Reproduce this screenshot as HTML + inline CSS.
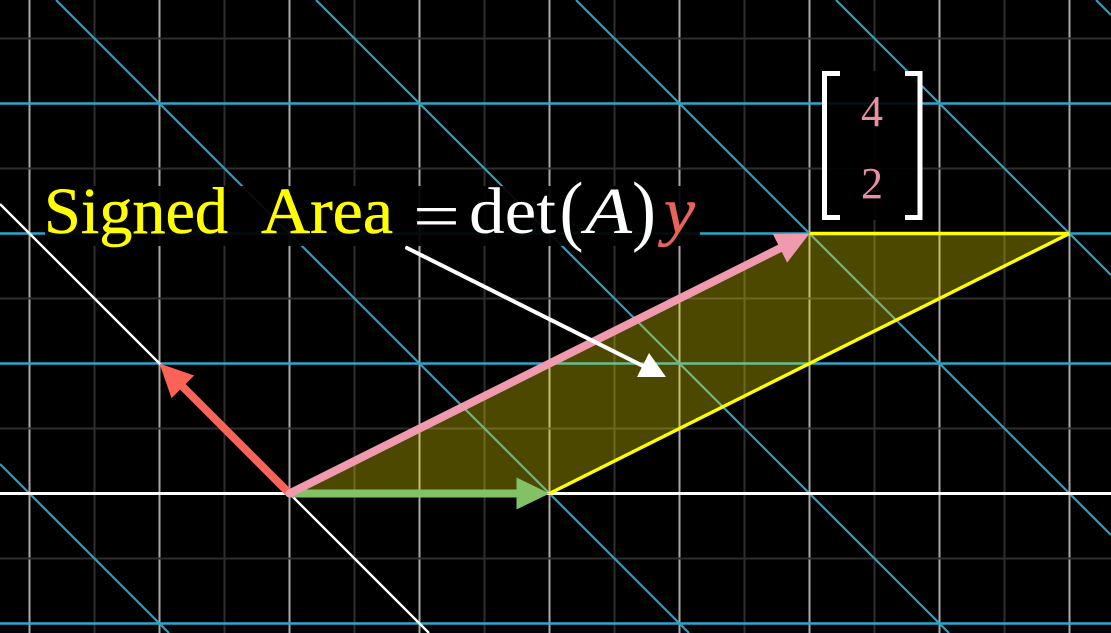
<!DOCTYPE html>
<html>
<head>
<meta charset="utf-8">
<style>
html,body{margin:0;padding:0;background:#000;width:1111px;height:633px;overflow:hidden}
svg{display:block}
text{font-family:"Liberation Serif",serif}
</style>
</head>
<body>
<svg id="chart" width="1111" height="633" viewBox="0 0 1111 633" xmlns="http://www.w3.org/2000/svg">
  <rect x="0" y="0" width="1111" height="633" fill="#000"/>
  <g id="grid-layer"></g>
  <g id="transformed-layer"></g>
  <g id="area-layer"></g>
  <rect x="45" y="186" width="655" height="60" fill="#000" opacity="0.92"/>
  <rect x="822" y="71" width="100" height="149" fill="#000" opacity="0.9"/>
  <g id="vector-layer"></g>
  <g font-size="66" stroke-width="0.5">
    <text x="44" y="233" fill="#ffff00" stroke="#ffff00" textLength="184" lengthAdjust="spacingAndGlyphs">Signed</text>
    <text x="261" y="233" fill="#ffff00" stroke="#ffff00" textLength="132" lengthAdjust="spacingAndGlyphs">Area</text>
    <text x="413" y="238" fill="#ffffff" textLength="47" lengthAdjust="spacingAndGlyphs">=</text>
    <text x="469" y="233" fill="#ffffff" textLength="87" lengthAdjust="spacingAndGlyphs">det</text>
    <text x="559.5" y="236" font-size="78" fill="#ffffff" textLength="24" lengthAdjust="spacingAndGlyphs">(</text>
    <text x="585" y="233" fill="#ffffff" font-style="italic" textLength="47" lengthAdjust="spacingAndGlyphs">A</text>
    <text x="632" y="236" font-size="78" fill="#ffffff" textLength="24" lengthAdjust="spacingAndGlyphs">)</text>
    <text x="664" y="233" fill="#e8635a" stroke="#e8635a" font-style="italic" textLength="31" lengthAdjust="spacingAndGlyphs">y</text>
  </g>
  <g id="matrix-layer">
    <path d="M840 73.5H824.5V217.5H840" fill="none" stroke="#fff" stroke-width="5"/>
    <path d="M905 73.5H920V217.5H905" fill="none" stroke="#fff" stroke-width="5"/>
  </g>
  <g id="callout">
    <line x1="407" y1="248" x2="645" y2="367" stroke="#fff" stroke-width="4" stroke-linecap="round"/>
    <polygon points="637,377 666,377 649,353" fill="#fff"/>
  </g>
</svg>
<script>
// Grid ranges, in plane units (the origin sits at the centre of the white axis crossing)
const gridXValues = [-2, -1.5, -1, -0.5, 0, 0.5, 1, 1.5, 2, 2.5, 3, 3.5, 4, 4.5, 5, 5.5, 6];
const gridYValues = [3.5, 3, 2.5, 2, 1.5, 1, 0.5, 0, -0.5, -1];
const transformedRows = [3, 2, 1, -1];
const transformedColumns = [-1, 1, 2, 3, 4, 5];
// Vectors and the transformed region
const iHatVector = [2, 0];
const jHatVector = [-1, 1];
const resultVector = [4, 2];
const areaCorners = [[0, 0], [2, 0], [6, 2], [4, 2]];
const matrixEntries = ["4", "2"];

function sx(u) { return 289.5 + 130 * u; }
function sy(v) { return 493.5 - 130 * v; }

const NS = 'http://www.w3.org/2000/svg';
const FRAME_W = 1111;
const FRAME_H = 633;

// Liang-Barsky clip so that no line extends beyond the frame
function clipToFrame(x1, y1, x2, y2) {
  let t0 = 0;
  let t1 = 1;
  const dx = x2 - x1;
  const dy = y2 - y1;
  const p = [-dx, dx, -dy, dy];
  const q = [x1, FRAME_W - x1, y1, FRAME_H - y1];
  for (let i = 0; i < 4; i++) {
    if (p[i] === 0) {
      if (q[i] < 0) return null;
    } else {
      const r = q[i] / p[i];
      if (p[i] < 0) t0 = Math.max(t0, r);
      else t1 = Math.min(t1, r);
    }
  }
  if (t0 > t1) return null;
  return [x1 + t0 * dx, y1 + t0 * dy, x1 + t1 * dx, y1 + t1 * dy];
}

function segment(parent, u1, v1, u2, v2, color, width) {
  const c = clipToFrame(sx(u1), sy(v1), sx(u2), sy(v2));
  const el = document.createElementNS(NS, 'line');
  const pts = c || [0, 0, 0, 0];
  el.setAttribute('x1', pts[0]);
  el.setAttribute('y1', pts[1]);
  el.setAttribute('x2', pts[2]);
  el.setAttribute('y2', pts[3]);
  el.setAttribute('stroke', color);
  el.setAttribute('stroke-width', width);
  parent.appendChild(el);
  return el;
}

const gridLayer = document.getElementById('grid-layer');
gridXValues.forEach(function (u) {
  const major = Number.isInteger(u);
  const el = segment(gridLayer, u, -2, u, 4, major ? '#a8a8a8' : '#2e2e2e', 2);
  
  
});
gridYValues.forEach(function (v) {
  const el = segment(gridLayer, -3, v, 7, v, '#2e2e2e', 2);
  
  
});

const transformedLayer = document.getElementById('transformed-layer');
transformedRows.forEach(function (v) {
  const el = segment(transformedLayer, -3, v, 7, v, '#29a9d0', 2.6);
  
  
});
// each column k runs along the transformed j-hat, through k times the transformed i-hat
transformedColumns.forEach(function (k) {
  const t = 8;
  const ou = k * iHatVector[0];
  const ov = k * iHatVector[1];
  const el = segment(transformedLayer, ou - t * jHatVector[0], ov - t * jHatVector[1], ou + t * jHatVector[0], ov + t * jHatVector[1], '#2c9fc2', 2.2);
  
  
});
const axisX = segment(transformedLayer, -3, 0, 7, 0, '#ffffff', 3);


const axisJ = segment(transformedLayer, jHatVector[0] * -6, jHatVector[1] * -6, jHatVector[0] * 6, jHatVector[1] * 6, '#ffffff', 2.4);



const areaLayer = document.getElementById('area-layer');
const areaFill = document.createElementNS(NS, 'polygon');
areaFill.setAttribute('points', areaCorners.map(function (c) { return sx(c[0]) + ',' + sy(c[1]); }).join(' '));
areaFill.setAttribute('fill', '#ffee00');
areaFill.setAttribute('fill-opacity', '0.3');


areaLayer.appendChild(areaFill);
const edgeLower = segment(areaLayer, areaCorners[1][0], areaCorners[1][1], areaCorners[2][0], areaCorners[2][1], '#ffff00', 3.4);


const edgeUpper = segment(areaLayer, areaCorners[2][0], areaCorners[2][1], areaCorners[3][0], areaCorners[3][1], '#ffff00', 3.4);



const vectorLayer = document.getElementById('vector-layer');
function arrow(vec, color, width) {
  const tx = sx(vec[0]);
  const ty = sy(vec[1]);
  const dx = tx - sx(0);
  const dy = ty - sy(0);
  const len = Math.hypot(dx, dy);
  const ux = dx / len;
  const uy = dy / len;
  const bx = tx - 33 * ux;
  const by = ty - 33 * uy;
  const g = document.createElementNS(NS, 'g');
  const shaft = document.createElementNS(NS, 'line');
  shaft.setAttribute('x1', sx(0));
  shaft.setAttribute('y1', sy(0));
  shaft.setAttribute('x2', bx);
  shaft.setAttribute('y2', by);
  shaft.setAttribute('stroke', color);
  shaft.setAttribute('stroke-width', width);
  shaft.setAttribute('stroke-linecap', 'round');
  
  
  g.appendChild(shaft);
  const head = document.createElementNS(NS, 'polygon');
  head.setAttribute('points', tx + ',' + ty + ' ' + (bx - 16 * uy) + ',' + (by + 16 * ux) + ' ' + (bx + 16 * uy) + ',' + (by - 16 * ux));
  head.setAttribute('fill', color);
  
  
  g.appendChild(head);
  vectorLayer.appendChild(g);
  return g;
}
const jArrow = arrow(jHatVector, '#fc6255', 8);


const iArrow = arrow(iHatVector, '#83c167', 8);


const resultArrow = arrow(resultVector, '#f09aaf', 8);



const matrixLayer = document.getElementById('matrix-layer');
matrixEntries.forEach(function (entry, i) {
  const t = document.createElementNS(NS, 'text');
  t.setAttribute('x', 872);
  t.setAttribute('y', 126 + i * 72);
  t.setAttribute('text-anchor', 'middle');
  t.setAttribute('font-size', '44');
  t.setAttribute('fill', '#e88fa2');
  
  
  t.textContent = entry;
  matrixLayer.appendChild(t);
});
</script>
</body>
</html>
